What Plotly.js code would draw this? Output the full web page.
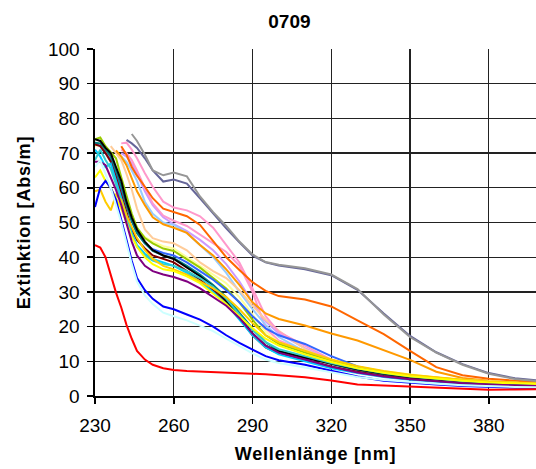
<!DOCTYPE html>
<html>
<head>
<meta charset="utf-8">
<script src="https://cdn.plot.ly/plotly-3.0.1.min.js"></script>
<style>
html,body{margin:0;padding:0;overflow:hidden;background:#fff;}
#chart{width:536px;height:469px;}
.g-xtitle text,.g-ytitle text{letter-spacing:0.8px;}
</style>
</head>
<body>
<div id="chart"></div>
<script>
// Wavelengths [nm]
const wl = [230,232,234,236,238,240,242,244,246,249,252,256,260,265,270,275,280,285,290,295,300,310,320,330,340,350,360,370,380,390,400];

// Extinction series [Abs/m]
const lavender   = [null,null,null,null,null,70,69,67,64,59,55,51.5,49.5,47.5,45,42,38,33,27,21.5,18,13.8,10.2,8.2,6.9,5.9,5.1,4.5,3.9,3.5,3.3];
const pink2      = [null,null,null,null,null,71,70,68,65,60,55.5,52,50.5,49,46.5,44,41.5,37.5,30,19.5,16,13,9.8,8,6.7,5.8,5,4.4,3.9,3.5,3.3];
const lightBlue  = [null,null,null,null,null,69,67.5,65,62,56,52.5,50,49.3,47,43.5,40,35.5,30,25,20.5,17,12.8,9.6,7.8,6.6,5.6,4.9,4.3,3.8,3.4,3.2];
const peach      = [null,null,null,72,70,68,64,59.5,54,48,45.5,44.5,44,42,38.5,36,34,30.5,26,22,18.8,13.5,10,8.2,6.8,5.8,5,4.4,3.9,3.5,3.3];
const pink       = [null,null,null,null,null,72.8,73,71,68.5,64.2,60.3,56,54.3,53.5,51.8,48.5,43.5,38.5,31,23,18.5,14.5,10.5,8.3,7,6,5.2,4.6,4,3.6,3.4];
const orange     = [null,null,null,null,70.8,69,66.5,62.5,59,55,51.5,49.5,48.5,47,43.5,40.5,36.5,32,27,23.8,22.2,20.3,18,16,13.2,10.4,7,5.2,4.4,3.8,3.5];
const orangeRed  = [null,null,null,null,null,72,69.5,66,63.5,60.3,57,54,53,51.8,49.3,44.8,40,36.3,32.8,30.3,28.8,27.8,25.8,21.8,17.8,13,8.3,6,5,4.4,4];
const slate      = [null,null,null,null,null,null,73.8,72.8,71.5,68.5,65,61.8,62.4,61.2,57,52.5,48.3,44.3,40.5,38.5,37.6,36.5,34.8,30.6,23.8,17.3,12.6,9.2,6.6,5.1,4.4];
const gray       = [null,null,null,null,null,null,null,75.5,73.5,69.5,65,63.6,64.4,63.3,57.5,53,49,44.5,40.8,38.6,37.8,36.8,35,30.8,23.5,17,12.5,9,6.4,4.9,4.2];
const lightYellow= [72,72.5,70.5,68.5,65,60,55,51,48,45.8,44.5,43.2,42.5,40,37.5,35,32.5,28.5,23.5,18.5,15.5,12.8,10.4,8.5,7.1,6.1,5.3,4.7,4.2,3.8,3.5];
const green      = [74,74.5,72,70.2,68.5,63,58,52.6,48.5,45.5,44,42.5,41.8,39.5,37,34,31,27,22,17.5,15,12.5,10.3,8.4,7,6,5.2,4.6,4.1,3.7,3.5];
const royalBlue  = [73,72,70,68,64,59.5,54.5,50.5,47,44,42.3,41.2,40.5,38.5,36,33.5,30.5,27,23,19.5,17.5,15,11.5,8.5,6.5,5.2,4.3,3.6,3.2,2.9,2.7];
const teal       = [73,72.8,71,69,65,60.5,55,50.5,47,44,41.8,40.5,39.7,37.5,35,32,28.5,24,19.5,15.5,13,11.2,9.2,7.5,6.2,5.3,4.6,4.1,3.7,3.4,3.2];
const darkRed    = [72.5,72,70,67.5,63,58,52.5,48,45,42.5,40.5,39.5,38.5,36,33.5,30.5,27,22.5,17.5,14,12.2,10.5,8.5,7,5.8,5,4.4,3.9,3.5,3.2,3.0];
const black      = [74,73.5,71.5,70,66,62,56,51.5,48,44.5,42,40.5,39.5,37,34.5,31.5,27.5,23,18,14.5,12.8,11,9.3,7.7,6.5,5.5,4.8,4.2,3.8,3.4,3.2];
const cyan       = [71,69,66,67,62,57,51.5,47,43.5,41,39.5,38.5,37.5,35.5,33,30,26.5,22,17.5,14,12,10,8,6.6,5.5,4.7,4.1,3.6,3.2,2.9,2.7];
const turquoise  = [68,71,68,65.5,61,56,51,46.5,43,40.5,39,38,37.5,36,34,31.5,28,23.5,19,15.5,13.5,11.5,9.5,7.9,6.6,5.6,4.9,4.3,3.9,3.5,3.3];
const yellow     = [59,59.5,56,53.5,58,56.5,52,48.5,45.5,42,39.5,37.5,36.5,35,33,31,28.5,25,21,17.5,15.5,13,10.5,8.6,7.2,6.1,5.3,4.7,4.2,3.8,3.6];
const brightYellow=[63,65,62,60,57,54,50,46,43,40,38,36.5,36,34.5,32.5,29.5,26.5,23,19.5,16.5,14.5,12,9.8,8,6.7,5.7,5,4.4,3.9,3.6,3.4];
const purple     = [67.5,67.5,66.5,63,59.4,55,49.5,44.5,40.5,37.5,36,35,34.3,33,31,28.5,26,22.5,18,14.5,12.5,10.5,8.4,6.8,5.6,4.8,4.2,3.7,3.3,3,2.8];
const blue       = [54.5,60,62,60,56.5,51,45,39,34,30.5,28,25.8,25,23.5,22,20,17.5,15.3,13.3,11.5,10.3,9,7.3,5.6,4.4,3.8,3.3,2.9,2.6,2.4,2.3];
const lightCyan  = [66,68,64,60,55,50,44,38,33,29,26.5,24,23,21.8,20.3,18.7,16.5,14.3,12.3,10.5,9.5,8.2,6.8,5.5,4.6,4,3.5,3.1,2.8,2.6,2.5];
const red        = [43.5,42.8,40,34.5,29.8,25.5,20.5,16.5,13,10.5,9,8,7.5,7.2,7,7,6.8,6.6,6.4,6.3,6,5.4,4.5,3.3,3,2.7,2.4,2,1.8,1.9,2.0];

const seriesList = [lavender,pink2,lightBlue,peach,pink,orange,orangeRed,slate,gray,lightYellow,green,royalBlue,teal,darkRed,black,cyan,turquoise,yellow,brightYellow,purple,blue,lightCyan,red];
const colorList  = ['#CC99FF','#FF99CC','#99CCFF','#FFCC99','#FF99CC','#FF9900','#FF6600','#666699','#969696','#FFFF99','#99CC00','#3366FF','#008080','#800000','#000000','#00CCFF','#33CCCC','#FFCC00','#FFFF00','#800080','#0000FF','#CCFFFF','#FF0000'];

const traces = seriesList.map((s,i)=>({
  x: wl, y: s, type:'scatter', mode:'lines',
  line:{color:colorList[i], width:2},
  hoverinfo:'skip'
}));

const FONT = 'Liberation Sans, Arial, sans-serif';
const layout = {
  width:536, height:469,
  margin:{l:95, r:0, t:49, b:73, pad:0},
  paper_bgcolor:'#fff', plot_bgcolor:'#fff',
  showlegend:false,
  font:{family:FONT, color:'#000', size:19},
  title:{text:'<b>0709</b>', font:{family:FONT, size:19, color:'#000'},
         x:0.54, xref:'container', xanchor:'center', y:0.955, yref:'container', yanchor:'middle'},
  xaxis:{
    range:[230,398], tick0:230, dtick:30, tickmode:'linear',
    showline:true, linecolor:'#000', linewidth:2,
    ticks:'outside', ticklen:6, tickwidth:1.5, tickcolor:'#000',
    ticklabelstandoff:5,
    showgrid:true, gridcolor:'#222', gridwidth:1.3, zeroline:false,
    tickfont:{family:FONT, size:19, color:'#000'},
    title:{text:'<b>Wellenlänge [nm]</b>', font:{family:FONT, size:18, color:'#000'}, standoff:13}
  },
  yaxis:{
    range:[0,100], tick0:0, dtick:10, tickmode:'linear',
    showline:true, linecolor:'#000', linewidth:2.5,
    ticks:'outside', ticklen:6, tickwidth:1.5, tickcolor:'#000',
    ticklabelstandoff:3,
    showgrid:true, gridcolor:'#222', gridwidth:1.3, zeroline:false,
    tickfont:{family:FONT, size:19, color:'#000'},
    title:{text:'<b>Extinktion [Abs/m]</b>', font:{family:FONT, size:18, color:'#000'}, standoff:13}
  }
};

Plotly.newPlot('chart', traces, layout, {staticPlot:true, displayModeBar:false});
</script>
</body>
</html>
